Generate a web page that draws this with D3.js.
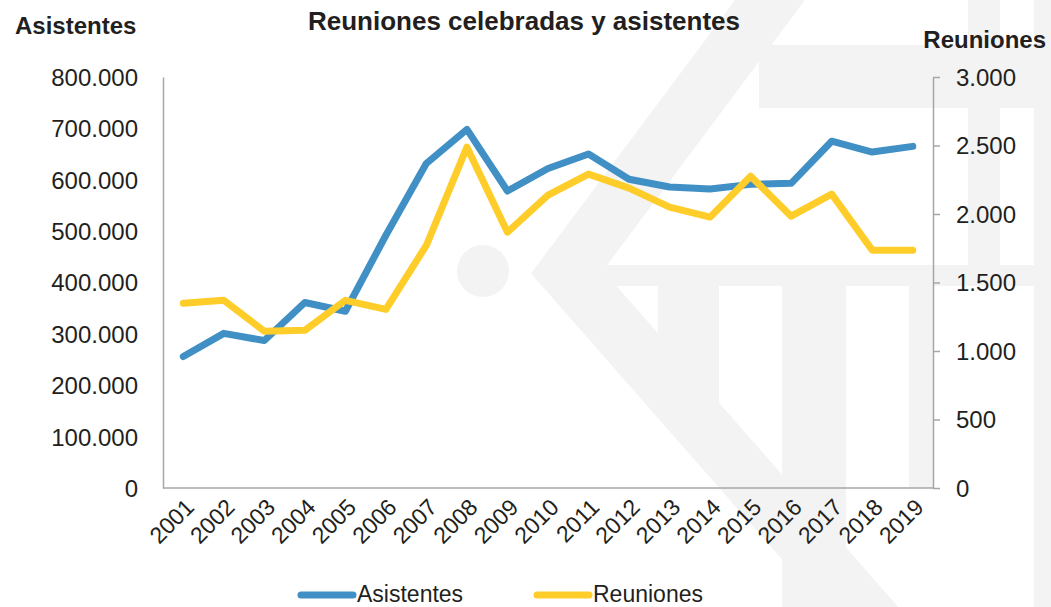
<!DOCTYPE html>
<html>
<head>
<meta charset="utf-8">
<script src="https://d3js.org/d3.v7.min.js"></script>
<style>
  body { margin: 0; background: #fff; }
  svg text { font-family: "Liberation Sans", Arial, sans-serif; fill: #231f20; }
  .axis path, .axis line { stroke: #a6a6a6; stroke-width: 1.5; }
</style>
</head>
<body>
<svg width="1051" height="607"></svg>
<script>
// chart data
var years = ["2001","2002","2003","2004","2005","2006","2007","2008","2009","2010",
             "2011","2012","2013","2014","2015","2016","2017","2018","2019"];
var asistentes = [256000, 301000, 287000, 361000, 344000, 492000, 632000, 698000, 578000, 622000,
                  650000, 601000, 586000, 582000, 591000, 593000, 675000, 654000, 665000];
var reuniones = [1348, 1370, 1144, 1151, 1370, 1304, 1772, 2488, 1867, 2138,
                 2291, 2189, 2050, 1977, 2276, 1984, 2145, 1736, 1736];
var leftTicks = [0, 100000, 200000, 300000, 400000, 500000, 600000, 700000, 800000];
var rightTicks = [0, 500, 1000, 1500, 2000, 2500, 3000];

var svg = d3.select("svg");
var margin = {left: 163, right: 118, top: 77, bottom: 119};
var w = 1051, h = 607;

var es = d3.formatLocale({decimal: ",", thousands: ".", grouping: [3], currency: ["", "€"]});
var fmt = es.format(",d");

// faint watermark in the background
var wm = svg.append("g").attr("fill", "#f3f3f3");
wm.append("circle").attr("cx", 483).attr("cy", 271).attr("r", 26);
wm.append("path")
  .attr("d", "M785,-20 L567,272 L890,640")
  .attr("fill", "none").attr("stroke", "#f3f3f3").attr("stroke-width", 56);
wm.append("rect").attr("x", 759).attr("y", 45).attr("width", 300).attr("height", 63);
wm.append("path").attr("d", "M592,276 L604,265 L1034,265 L1034,286 L604,286 Z");
wm.append("path").attr("d", "M658,286 L719,286 L719,408 L658,345 Z");
wm.append("rect").attr("x", 782).attr("y", 286).attr("width", 64).attr("height", 330);
wm.append("rect").attr("x", 909).attr("y", 286).attr("width", 24).attr("height", 202);
wm.append("rect").attr("x", 968).attr("y", 0).attr("width", 32).attr("height", 265);
wm.append("rect").attr("x", 1034).attr("y", 0).attr("width", 20).attr("height", 607);

var x = d3.scalePoint().domain(years).range([margin.left, w - margin.right]).padding(0.5);
var yL = d3.scaleLinear().domain([0, 800000]).range([h - margin.bottom, margin.top]);
var yR = d3.scaleLinear().domain([0, 3000]).range([h - margin.bottom, margin.top]);

// axes
var gL = svg.append("g").attr("class", "axis")
  .attr("transform", "translate(" + margin.left + ",0)")
  .call(d3.axisLeft(yL).tickValues(leftTicks).tickFormat(fmt).tickSize(0).tickPadding(25));
gL.selectAll("text").style("font-size", "24px").attr("dy", "0.35em");

var gR = svg.append("g").attr("class", "axis")
  .attr("transform", "translate(" + (w - margin.right) + ",0)")
  .call(d3.axisRight(yR).tickValues(rightTicks).tickFormat(fmt).tickSize(7).tickSizeOuter(0).tickPadding(16));
gR.selectAll("text").style("font-size", "24px").attr("dy", "0.35em");

var gB = svg.append("g").attr("class", "axis")
  .attr("transform", "translate(0," + (h - margin.bottom) + ")")
  .call(d3.axisBottom(x).tickSize(0).tickSizeOuter(0));
gB.selectAll("text")
  .style("font-size", "23px")
  .attr("text-anchor", "end")
  .attr("dy", "0.35em")
  .attr("transform", "translate(6,15) rotate(-45)")
  .attr("y", 0).attr("x", 0);
gB.select(".domain").attr("d", "M" + margin.left + ",0H" + (w - margin.right));

// lines
var lineL = d3.line().x(function(d, i) { return x(years[i]); }).y(function(d) { return yL(d); });
var lineR = d3.line().x(function(d, i) { return x(years[i]); }).y(function(d) { return yR(d); });

svg.append("path").datum(asistentes)
  .attr("d", lineL).attr("fill", "none").attr("stroke", "#4190c5")
  .attr("stroke-width", 7).attr("stroke-linecap", "round").attr("stroke-linejoin", "round");
svg.append("path").datum(reuniones)
  .attr("d", lineR).attr("fill", "none").attr("stroke", "#ffcd29")
  .attr("stroke-width", 7).attr("stroke-linecap", "round").attr("stroke-linejoin", "round");

// titles
svg.append("text").attr("x", 524).attr("y", 30).attr("text-anchor", "middle")
  .style("font-size", "26px").style("font-weight", "bold")
  .text("Reuniones celebradas y asistentes");
svg.append("text").attr("x", 15).attr("y", 34)
  .style("font-size", "24px").style("font-weight", "bold").text("Asistentes");
svg.append("text").attr("x", 1046).attr("y", 48).attr("text-anchor", "end")
  .style("font-size", "24px").style("font-weight", "bold").text("Reuniones");

// legend
var legend = [{name: "Asistentes", color: "#4190c5", x: 301}, {name: "Reuniones", color: "#ffcd29", x: 537}];
var lg = svg.append("g");
legend.forEach(function(d) {
  lg.append("line").attr("x1", d.x).attr("x2", d.x + 52).attr("y1", 595).attr("y2", 595)
    .attr("stroke", d.color).attr("stroke-width", 7).attr("stroke-linecap", "round");
  lg.append("text").attr("x", d.x + 56).attr("y", 602).style("font-size", "23px").text(d.name);
});
</script>
</body>
</html>
